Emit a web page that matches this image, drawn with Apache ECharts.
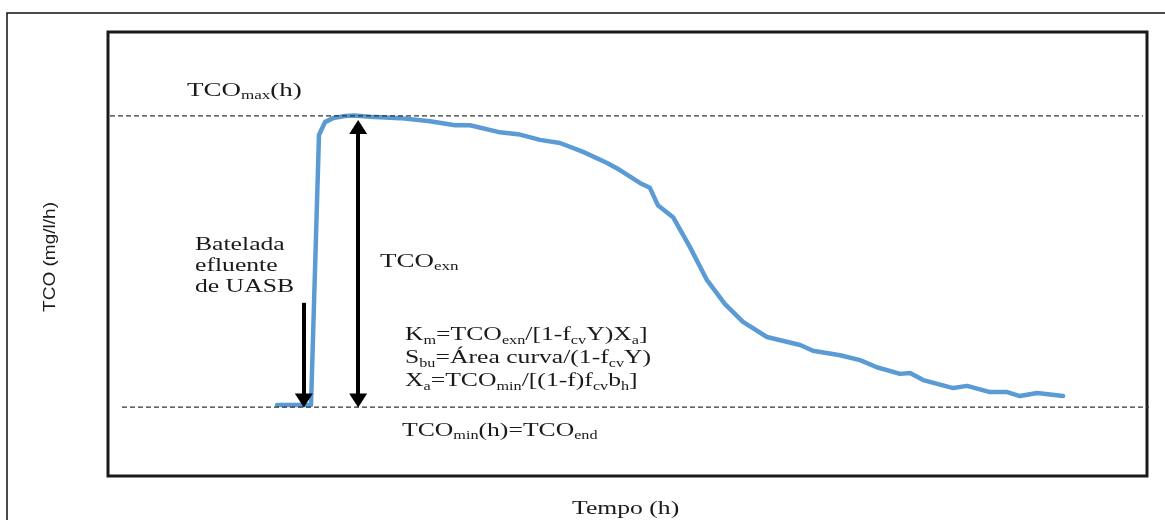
<!DOCTYPE html>
<html>
<head>
<meta charset="utf-8">
<script src="https://cdn.jsdelivr.net/npm/echarts@6/dist/echarts.min.js"></script>
<style>
  html, body { margin: 0; padding: 0; background: #fff; }
  #chart { width: 1165px; height: 520px; }
</style>
</head>
<body>
<div id="chart"></div>
<script>
// curva TCO x tempo
const tempo = [4.23, 4.93, 5.08, 5.28, 5.43, 5.63, 5.93, 6.16, 6.56, 7.31, 8.06, 8.68, 9.06, 9.81, 10.31,
  10.81, 11.31, 11.89, 12.49, 12.81, 13.31, 13.56, 13.76, 14.14, 14.56, 14.99, 15.44, 15.89, 16.49, 17.32,
  17.64, 18.32, 18.82, 19.24, 19.82, 20.07, 20.40, 21.15, 21.50, 22.07, 22.50, 22.82, 23.25, 23.90];
const tco = [16.0, 16.0, 16.0, 76.8, 79.7, 80.6, 81.1, 81.2, 80.9, 80.6, 79.9, 79.0, 79.0, 77.4, 76.9,
  75.7, 75.0, 73.0, 70.5, 68.9, 66.0, 64.9, 61.0, 58.3, 51.6, 44.1, 38.7, 34.7, 31.3, 29.5,
  28.2, 27.2, 26.1, 24.5, 23.0, 23.2, 21.6, 19.8, 20.3, 18.9, 18.9, 18.0, 18.7, 18.0];

// linhas tracejadas
const tcoMax = 81.1;
const tcoMin = 15.5;
const maxLineX = [0.05, 25.9];
const minLineX = [0.35, 26.25];

// setas
const setaExnX = 6.26, setaExnTopo = 78.6, setaExnBase = 17.0;
const setaBatX = 4.9, setaBatTopo = 39.0, setaBatBase = 17.0;

const serif = 'Liberation Serif';
const cor = '#1a1a1a';
const sub = { fontSize: 12, fontFamily: serif, verticalAlign: 'bottom', lineHeight: 22, fill: cor };

function texto(x, y, txt, extra) {
  return Object.assign({
    type: 'text', x: x, y: y, scaleX: 1.35, silent: true,
    style: {
      text: txt, fontSize: 19, fontFamily: serif, fill: cor,
      lineHeight: 22, align: 'left', verticalAlign: 'middle',
      rich: { s: sub }
    }
  }, extra || {});
}

var option = {
  animation: false,
  grid: {
    show: true, left: 108, top: 32, width: 1039, height: 444,
    borderColor: '#1a1a1a', borderWidth: 3, backgroundColor: 'transparent'
  },
  xAxis: { type: 'value', min: 0, max: 26, show: false },
  yAxis: { type: 'value', min: 0, max: 100, show: false },
  series: [
    {
      name: 'TCO', type: 'line', z: 2,
      data: tempo.map((t, i) => [t, tco[i]]),
      showSymbol: false, silent: true,
      lineStyle: { color: '#5b9bd5', width: 4.5, join: 'round', cap: 'round' }
    },
    {
      name: 'max', type: 'line', z: 3, clip: false, silent: true, showSymbol: false,
      data: [[maxLineX[0], tcoMax], [maxLineX[1], tcoMax]],
      lineStyle: { color: '#333', width: 1.2, type: [5, 3] }
    },
    {
      name: 'min', type: 'line', z: 3, clip: false, silent: true, showSymbol: false,
      data: [[minLineX[0], tcoMin], [minLineX[1], tcoMin]],
      lineStyle: { color: '#333', width: 1.2, type: [5, 3] }
    },
    {
      name: 'setas', type: 'line', z: 4, data: [],
      markLine: {
        silent: true, z: 4,
        symbol: ['triangle', 'triangle'],
        symbolSize: [18, 14],
        label: { show: false },
        lineStyle: { color: '#000', width: 4, type: 'solid' },
        emphasis: { disabled: true },
        data: [
          [{ coord: [setaExnX, setaExnTopo] }, { coord: [setaExnX, setaExnBase] }],
          [{ coord: [setaBatX, setaBatTopo], symbol: 'none' }, { coord: [setaBatX, setaBatBase] }]
        ]
      }
    }
  ],
  graphic: [
    {
      type: 'rect', silent: true,
      shape: { x: 7, y: 13, width: 1180, height: 540 },
      style: { fill: 'none', stroke: '#111', lineWidth: 1.5 }
    },
    texto(187, 91, 'TCO{s|max}(h)', { scaleX: 1.42 }),
    texto(195, 235, 'Batelada\nefluente\nde UASB', { style: {
      text: 'Batelada\nefluente\nde UASB', fontSize: 19, fontFamily: serif, fill: cor,
      lineHeight: 21, align: 'left', verticalAlign: 'top' } }),
    texto(380, 262, 'TCO{s|exn}', { scaleX: 1.42 }),
    texto(405, 324, 'K{s|m}=TCO{s|exn}/[1-f{s|cv}Y)X{s|a}]\nS{s|bu}=Área curva/(1-f{s|cv}Y)\nX{s|a}=TCO{s|min}/[(1-f)f{s|cv}b{s|h}]', { style: {
      text: 'K{s|m}=TCO{s|exn}/[1-f{s|cv}Y)X{s|a}]\nS{s|bu}=Área curva/(1-f{s|cv}Y)\nX{s|a}=TCO{s|min}/[(1-f)f{s|cv}b{s|h}]',
      fontSize: 19, fontFamily: serif, fill: cor, lineHeight: 23, align: 'left', verticalAlign: 'top',
      rich: { s: Object.assign({}, sub, { lineHeight: 23 }) } } }),
    texto(402, 431, 'TCO{s|min}(h)=TCO{s|end}'),
    texto(572, 509, 'Tempo (h)'),
    {
      type: 'text', x: 50, y: 257, rotation: Math.PI / 2, scaleX: 1.12, silent: true,
      style: {
        text: 'TCO (mg/l/h)', fontSize: 17, fontFamily: 'Liberation Sans', fill: cor,
        align: 'center', verticalAlign: 'middle'
      }
    }
  ]
};

var chart = echarts.init(document.getElementById('chart'));
chart.setOption(option);
window.onresize = function () {
  chart.resize();
};
</script>
</body>
</html>
